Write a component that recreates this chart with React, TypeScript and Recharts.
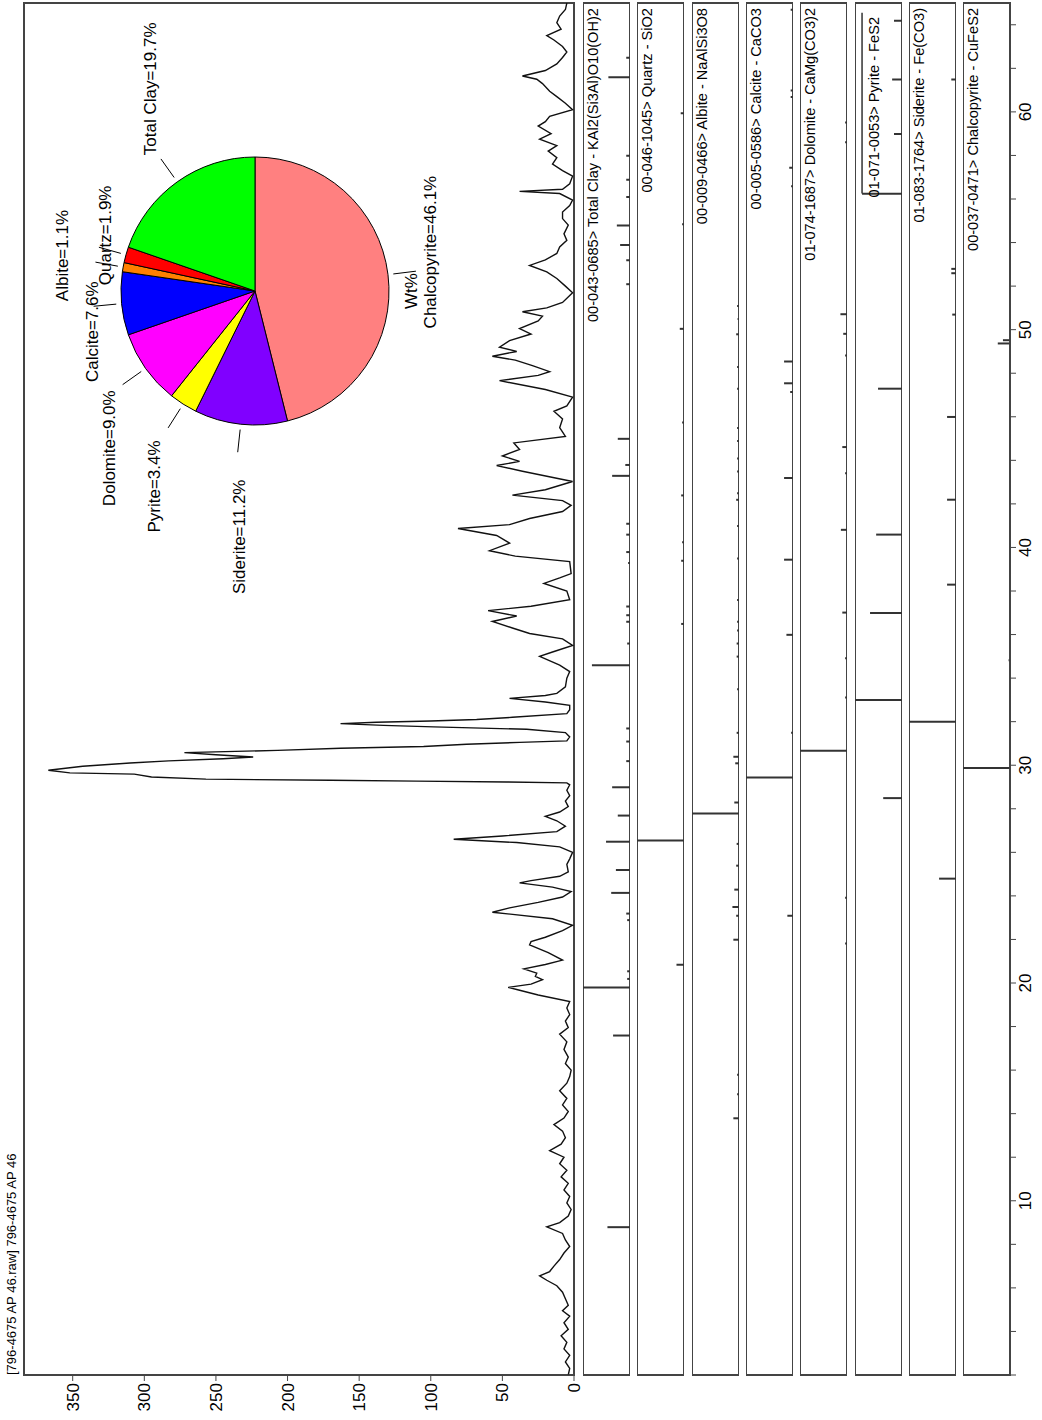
import React from "react";
import {
  LineChart,
  Line,
  BarChart,
  Bar,
  PieChart,
  Pie,
  Cell,
  XAxis,
  YAxis,
  ReferenceArea,
  ReferenceLine,
} from "recharts";

// measured pattern, 2-theta (deg) and counts
const twoTheta = [
  2.0, 2.3, 2.6, 2.9, 3.2, 3.5, 3.8, 4.1, 4.4, 4.7, 4.95, 5.2, 5.5, 5.8, 6.1, 6.35, 6.55, 6.75, 7.0, 7.3,
  7.6, 7.9, 8.2, 8.5, 8.8, 9.0, 9.3, 9.6, 9.9, 10.2, 10.5, 10.8, 11.1, 11.4, 11.7, 12.0, 12.3, 12.6, 12.9, 13.2,
  13.5, 13.8, 14.1, 14.4, 14.7, 15.05, 15.4, 15.7, 16.0, 16.3, 16.6, 16.95, 17.3, 17.65, 17.95, 18.25, 18.55, 18.85, 19.15, 19.45,
  19.7, 19.8, 19.95, 20.15, 20.3, 20.45, 20.65, 20.85, 21.05, 21.4, 21.75, 21.9, 22.1, 22.4, 22.65, 22.95, 23.25, 23.45, 23.7, 23.95,
  24.2, 24.4, 24.6, 24.7, 24.9, 25.1, 25.45, 25.7, 26.0, 26.25, 26.45, 26.6, 26.75, 26.95, 27.2, 27.45, 27.65, 27.85, 28.1, 28.35,
  28.6, 28.85, 29.1, 29.19, 29.23, 29.27, 29.31, 29.36, 29.46, 29.59, 29.65, 29.77, 29.86, 29.95, 30.1, 30.2, 30.3, 30.38, 30.48, 30.58,
  30.68, 30.78, 30.86, 30.96, 31.05, 31.12, 31.3, 31.5, 31.65, 31.76, 31.83, 31.91, 31.97, 32.03, 32.1, 32.2, 32.37, 32.55, 32.75, 32.9,
  33.07, 33.2, 33.3, 33.6, 34.0, 34.3, 34.6, 35.0, 35.2, 35.5, 35.8, 36.05, 36.3, 36.6, 36.85, 37.1, 37.3, 37.6, 38.0, 38.35,
  38.6, 38.8, 39.35, 39.6, 39.85, 40.2, 40.55, 40.87, 41.05, 41.33, 41.65, 41.93, 42.15, 42.4, 42.65, 43.03, 43.5, 43.76, 43.95, 44.2,
  44.5, 44.8, 45.1, 45.5, 45.9, 46.25, 46.5, 46.9, 47.25, 47.66, 47.9, 48.07, 48.35, 48.6, 48.78, 49.0, 49.2, 49.5, 49.8, 50.05,
  50.4, 50.62, 50.82, 51.0, 51.25, 51.7, 52.0, 52.35, 52.65, 52.95, 53.2, 53.5, 53.8, 54.1, 54.4, 54.8, 55.1, 55.4, 55.7, 55.95,
  56.25, 56.35, 56.45, 56.7, 57.05, 57.3, 57.6, 57.9, 58.2, 58.45, 58.75, 59.0, 59.35, 59.55, 59.8, 60.1, 60.4, 60.7, 60.95, 61.3,
  61.5, 61.65, 61.9, 62.2, 62.5, 62.75, 63.0, 63.3, 63.5, 63.8, 64.1, 64.4, 64.7, 65.0,
];
const counts = [
  4, 3, 6, 3, 7, 5, 9, 4, 7, 3, 8, 4, 6, 8, 12, 19, 24, 17, 14, 10,
  7, 3, 6, 8, 19, 10, 4, 2, 5, 3, 7, 4, 9, 5, 10, 7, 17, 9, 6, 8,
  14, 7, 4, 8, 5, 10, 5, 3, 2, 6, 4, 7, 5, 10, 4, 6, 3, 5, 3, 25,
  40, 46, 30, 22, 27, 26, 35, 20, 8, 18, 31, 30, 20, 8, 1, 15, 57, 45, 25, 8,
  2, 15, 38, 30, 10, 4, 5, 3, 1, 10, 40, 84, 50, 12, 6, 12, 20, 10, 4, 6,
  3, 5, 3, 5, 47, 110, 170, 257, 295, 307, 352, 367, 355, 343, 310, 283, 245, 224, 250, 272,
  207, 163, 105, 75, 38, 5, 3, 6, 33, 98, 133, 163, 138, 100, 68, 43, 5, 3, 3, 20,
  45, 20, 12, 6, 5, 3, 10, 24, 15, 1, 8, 31, 43, 57, 40, 60, 30, 3, 5, 21,
  10, 2, 3, 41, 59, 45, 54, 81, 45, 31, 8, 2, 8, 43, 20, 1, 36, 54, 38, 50,
  38, 42, 6, 10, 8, 14, 5, 1, 20, 52, 25, 17, 29, 41, 57, 40, 52, 45, 30, 38,
  25, 22, 36, 19, 8, 1, 6, 12, 19, 31, 20, 12, 10, 5, 7, 4, 8, 8, 3, 1,
  10, 38, 8, 3, 1, 8, 15, 12, 18, 12, 24, 16, 25, 20, 17, 1, 6, 12, 17, 22,
  26, 36, 20, 12, 8, 5, 8, 14, 19, 9, 12, 10, 6, 5,
];

const countTicks = [0, 50, 100, 150, 200, 250, 300, 350];
const thetaTicks = [
  2, 4, 6, 8, 10, 12, 14, 16, 18, 20, 22, 24, 26, 28, 30, 32, 34, 36, 38, 40, 42, 44, 46, 48, 50, 52, 54, 56, 58, 60, 62, 64,
];
const thetaLabels = [10, 20, 30, 40, 50, 60];

// phase quantification (Wt%)
const phaseNames = ["Chalcopyrite", "Siderite", "Pyrite", "Dolomite", "Calcite", "Albite", "Quartz", "Total Clay"];
const phaseWt = [46.1, 11.2, 3.4, 9.0, 7.6, 1.1, 1.9, 19.7];
const phaseColors = ["#ff8080", "#8000ff", "#ffff00", "#ff00ff", "#0000ff", "#ff8000", "#ff0000", "#00ff00"];

// reference cards: stick position (2-theta) and relative intensity (%)
const clayPos = [8.8, 17.6, 19.8, 20.2, 20.55, 22.9, 23.2, 24.15, 25.2, 26.5, 27.7, 29.0, 30.2, 31.1, 31.7, 34.6, 35.6, 36.6, 36.9, 37.3, 39.3, 39.8, 40.6, 41.1, 43.3, 43.8, 45.0, 52.1, 53.2, 53.9, 54.8, 56.1, 56.9, 58.0, 61.6, 62.5];
const clayRel = [48, 36, 100, 6, 6, 6, 8, 40, 30, 51, 26, 38, 8, 8, 8, 81, 6, 8, 8, 8, 4, 8, 8, 8, 38, 10, 26, 8, 8, 21, 28, 8, 8, 8, 46, 8];
const quartzPos = [20.85, 26.55, 36.5, 39.4, 40.25, 42.4, 45.75, 50.05, 54.85, 59.95];
const quartzRel = [16, 100, 6, 6, 4, 6, 4, 9, 4, 7];
const albitePos = [13.8, 14.9, 15.8, 22.0, 23.1, 23.5, 24.3, 25.4, 26.4, 27.8, 28.3, 30.1, 30.4, 31.5, 33.5, 35.0, 35.6, 36.2, 36.6, 37.6, 39.5, 41.0, 42.2, 42.5, 43.5, 44.1, 44.9, 45.5, 47.3, 48.3, 49.8, 50.5, 51.1];
const albiteRel = [12, 4, 4, 12, 6, 14, 10, 6, 5, 100, 10, 8, 12, 5, 4, 5, 5, 4, 4, 4, 4, 4, 6, 4, 4, 4, 4, 4, 4, 4, 6, 3, 4];
const calcitePos = [23.1, 29.45, 31.5, 36.0, 39.45, 43.2, 47.15, 47.55, 48.55, 56.6, 57.45, 60.7, 61.0, 64.7];
const calciteRel = [12, 100, 4, 14, 19, 19, 6, 19, 19, 4, 8, 5, 5, 5];
const dolomitePos = [21.8, 23.9, 30.65, 33.1, 34.9, 37.0, 40.8, 43.4, 44.6, 48.8, 49.8, 50.7, 58.6, 59.5];
const dolomiteRel = [4, 4, 100, 4, 4, 10, 13, 4, 10, 4, 8, 14, 4, 4];
const pyritePos = [28.5, 33.0, 37.0, 40.6, 47.3, 56.25, 59.0, 61.5, 64.2];
const pyriteRel = [40, 100, 68, 55, 51, 85, 17, 21, 17];
const sideritePos = [24.8, 32.0, 38.3, 42.2, 46.0, 50.7, 52.6, 52.8, 61.5];
const sideriteRel = [36, 100, 19, 19, 19, 8, 10, 10, 10];
const chalcoPos = [29.85, 34.8, 49.35, 49.5];
const chalcoRel = [100, 3, 26, 15];

const cardNames = [
  "00-043-0685> Total Clay - KAl2(Si3Al)O10(OH)2",
  "00-046-1045> Quartz - SiO2",
  "00-009-0466> Albite - NaAlSi3O8",
  "00-005-0586> Calcite - CaCO3",
  "01-074-1687> Dolomite - CaMg(CO3)2",
  "01-071-0053> Pyrite - FeS2",
  "01-083-1764> Siderite - Fe(CO3)",
  "00-037-0471> Chalcopyrite - CuFeS2",
];
const cardPos = [clayPos, quartzPos, albitePos, calcitePos, dolomitePos, pyritePos, sideritePos, chalcoPos];
const cardRel = [clayRel, quartzRel, albiteRel, calciteRel, dolomiteRel, pyriteRel, sideriteRel, chalcoRel];

const FONT = "'Liberation Sans', Arial, Helvetica, sans-serif";
const FRAME = "#444";
const W = 1420; // drawn sideways, then turned
const PLOT_LEFT = 45;
const PLOT_RIGHT = 3;
const PANEL_TOP = 583;
const PANEL_STEP = 54.3;
const PANEL_H = 47;
const PIE_R = 134;
// per-label shifts so the texts sit where the original put them
const LABEL_NUDGE: [number, number][] = [
  [16, -11], [-2, 5], [9, 0], [9, 8], [-23, 24], [2, -8], [5, 31], [-17, 4],
];

const pattern = twoTheta.map((x, i) => ({ x, y: counts[i] }));
const pieRows = phaseNames.map((name, i) => ({ name, value: phaseWt[i] }));

function PieLabel(props: any) {
  const { cx, cy, midAngle, outerRadius, index } = props;
  const a = (-midAngle * Math.PI) / 180;
  const c = Math.cos(a);
  const s = Math.sin(a);
  const [nx, ny] = LABEL_NUDGE[index] || [0, 0];
  const tx = cx + outerRadius * 1.4 * c + nx;
  const ty = cy + outerRadius * 1.4 * s + ny;
  const anchor = Math.abs(c) < 0.3 ? "middle" : c > 0 ? "start" : "end";
  const name = props.payload?.name ?? props.name;
  const value = props.payload?.value ?? props.value;
  return (
    <g>
      <line
        x1={cx + outerRadius * 1.04 * c}
        y1={cy + outerRadius * 1.04 * s}
        x2={cx + outerRadius * 1.21 * c}
        y2={cy + outerRadius * 1.21 * s}
        stroke="#000"
        strokeWidth={1}
      />
      <text x={tx} y={ty} textAnchor={anchor} dominantBaseline="central" fontSize={17} fontFamily={FONT} fill="#000">
        {`${name}=${Number(value).toFixed(1)}%`}
      </text>
    </g>
  );
}

function ThetaTick(props: any) {
  const { x, y, payload } = props;
  const v = payload.value;
  if (!thetaLabels.includes(v)) return <g />;
  return (
    <text x={x} y={y} dy={13} textAnchor="middle" fontSize={17} fontFamily={FONT} fill="#000">
      {v}
    </text>
  );
}

function Panel({ i }: { i: number }) {
  const last = i === cardNames.length - 1;
  const rows = cardPos[i].map((x, k) => ({ x, h: cardRel[i][k] }));
  // the pyrite card carries a marker line, its name sits just below it
  const labelOffset = i === 5 ? 14 : 5;
  return (
    <div style={{ position: "absolute", left: 0, top: Math.round(PANEL_TOP + i * PANEL_STEP) }}>
      <BarChart
        width={W}
        height={PANEL_H + (last ? 34 : 0)}
        data={rows}
        margin={{ top: 0, right: PLOT_RIGHT, bottom: 0, left: PLOT_LEFT }}
      >
        <XAxis
          type="number"
          dataKey="x"
          domain={[2, 65]}
          allowDataOverflow
          hide={!last}
          ticks={thetaTicks}
          interval={0}
          height={34}
          tickSize={6}
          stroke={FRAME}
          tick={<ThetaTick />}
        />
        <YAxis type="number" domain={[0, 100]} hide allowDataOverflow />
        <ReferenceArea
          x1={2}
          x2={65}
          y1={0}
          y2={100}
          fill="none"
          stroke={FRAME}
          strokeWidth={2}
          ifOverflow="visible"
          label={{ value: cardNames[i], position: "insideTopRight", offset: labelOffset, fontSize: 14.6, fill: "#000", fontFamily: FONT }}
        />
        {i === 5 && (
          <ReferenceLine
            segment={[{ x: 56.25, y: 85 }, { x: 64.55, y: 85 }]}
            stroke="#333"
            strokeWidth={1.5}
            ifOverflow="visible"
          />
        )}
        <Bar dataKey="h" fill="#333" barSize={2} isAnimationActive={false} />
      </BarChart>
    </div>
  );
}

export default function App() {
  return (
    <div
      style={{
        position: "absolute",
        left: 0,
        top: 0,
        width: 1042,
        height: 1420,
        overflow: "hidden",
        background: "#fff",
        fontFamily: FONT,
      }}
    >
      <div
        style={{
          position: "absolute",
          left: 0,
          top: 0,
          width: W,
          height: 1042,
          transformOrigin: "0 0",
          transform: "translate(0px, 1420px) rotate(-90deg)",
        }}
      >
        <div
          style={{ position: "absolute", left: PLOT_LEFT, top: 3, fontSize: 13, lineHeight: "17px", whiteSpace: "nowrap", color: "#000" }}
        >
          [796-4675 AP 46.raw] 796-4675 AP 46
        </div>

        <div style={{ position: "absolute", left: 0, top: 0 }}>
          <LineChart width={W} height={592} data={pattern} margin={{ top: 24, right: PLOT_RIGHT, bottom: 18, left: 5 }}>
            <XAxis type="number" dataKey="x" domain={[2, 65]} hide allowDataOverflow />
            <YAxis
              type="number"
              domain={[0, 384]}
              ticks={countTicks}
              interval={0}
              width={40}
              tickSize={6}
              tickMargin={2}
              stroke={FRAME}
              allowDataOverflow
              tick={{ fill: "#000", fontSize: 17, fontFamily: FONT }}
            />
            <ReferenceArea x1={2} x2={65} y1={0} y2={384} fill="none" stroke={FRAME} strokeWidth={2} ifOverflow="visible" />
            <Line type="linear" dataKey="y" stroke="#111" strokeWidth={1.4} dot={false} isAnimationActive={false} />
          </LineChart>
        </div>

        <div style={{ position: "absolute", left: 700, top: 0 }}>
          <PieChart width={718} height={574} margin={{ top: 0, right: 0, bottom: 0, left: 0 }}>
            <Pie
              data={pieRows}
              dataKey="value"
              nameKey="name"
              cx={429}
              cy={255}
              outerRadius={PIE_R}
              startAngle={0}
              endAngle={-360}
              stroke="#000"
              strokeWidth={1}
              label={PieLabel}
              labelLine={false}
              isAnimationActive={false}
            >
              {pieRows.map((r, i) => (
                <Cell key={r.name} fill={phaseColors[i]} />
              ))}
            </Pie>
          </PieChart>
        </div>
        <div
          style={{ position: "absolute", left: 1129 - 40, top: 402, width: 80, textAlign: "center", fontSize: 17, lineHeight: "20px", color: "#000" }}
        >
          Wt%
        </div>

        {cardNames.map((_, i) => (
          <Panel key={i} i={i} />
        ))}
      </div>
    </div>
  );
}
